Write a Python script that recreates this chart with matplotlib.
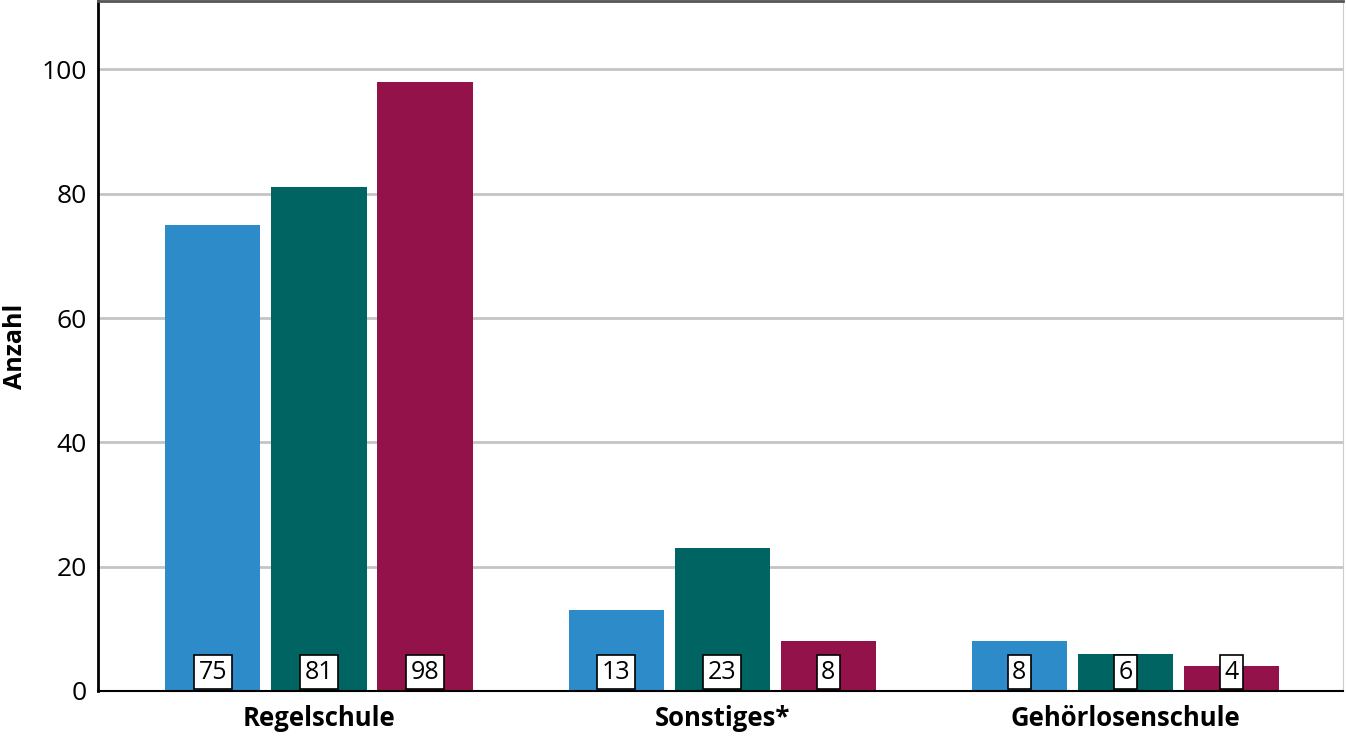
import numpy as np
import matplotlib.pyplot as plt

plt.rcParams['font.family'] = ['Open Sans', 'DejaVu Sans']

categories = ['Regelschule', 'Sonstiges*', 'Gehörlosenschule']
series_a = [75, 13, 8]
series_b = [81, 23, 6]
series_c = [98, 8, 4]
colors = ['#2E8BC9', '#006462', '#93124A']

fig = plt.figure(figsize=(13.46, 7.36), dpi=100)
ax = fig.add_axes([98 / 1346, 45 / 736, 1245 / 1346, 690 / 736])

x = np.arange(len(categories))
width = 0.236
offsets = [-0.263, 0, 0.263]

for vals, off, col in zip([series_a, series_b, series_c], offsets, colors):
    ax.bar(x + off, vals, width, color=col, zorder=2)
    for xi, v in zip(x, vals):
        ax.text(xi + off, 3.0, str(v), ha='center', va='center', fontsize=18,
                zorder=3,
                bbox=dict(boxstyle='square,pad=0.18', fc='white', ec='black', lw=1.2))

ax.set_xlim(-0.548, 2.54)
ax.set_ylim(0, 111)
ax.set_yticks([0, 20, 40, 60, 80, 100])
ax.set_xticks(x)
ax.set_xticklabels(categories, fontweight='bold', fontsize=18.5)
ax.tick_params(axis='y', labelsize=19, length=0, pad=8)
ax.tick_params(axis='x', length=0, pad=10)
# y axis title placed in figure coords so it is not clipped
fig.text(16 / 1346, 1 - 346 / 736, 'Anzahl', rotation=90, ha='center', va='center',
         fontweight='bold', fontsize=18)
ax.grid(axis='y', color='#C4C4C4', lw=2, zorder=0)

ax.spines['left'].set_linewidth(2)
ax.spines['bottom'].set_linewidth(1.5)
ax.spines['top'].set_color('#555555')
ax.spines['top'].set_linewidth(2)
ax.spines['right'].set_color('#CCCCCC')

fig.savefig('out.png', dpi=100)
